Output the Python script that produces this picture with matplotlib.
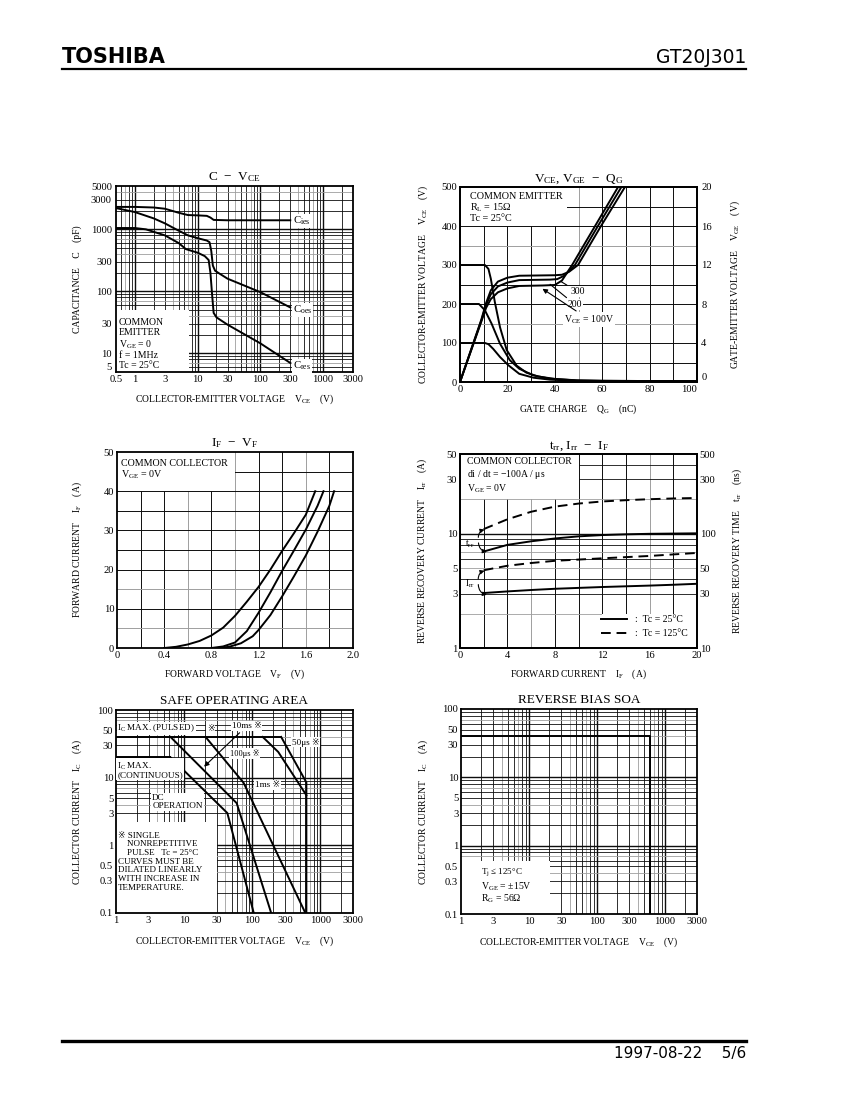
import numpy as np
import matplotlib
matplotlib.use("Agg")
import matplotlib.pyplot as plt
from matplotlib.ticker import NullLocator
from matplotlib.patches import Rectangle
from matplotlib.lines import Line2D

plt.rcParams["font.family"] = ["Liberation Serif", "DejaVu Sans", "Noto Sans CJK JP"]
plt.rcParams["mathtext.fontset"] = "custom"
plt.rcParams["mathtext.rm"] = "Liberation Serif"
plt.rcParams["mathtext.it"] = "Liberation Serif:italic"
plt.rcParams["mathtext.bf"] = "Liberation Serif:bold"
plt.rcParams["axes.linewidth"] = 1.3

# ---------------- C - VCE ----------------
cap_xticks = [0.5, 1, 3, 10, 30, 100, 300, 1000, 3000]
cap_yticks = [5, 10, 30, 100, 300, 1000, 3000, 5000]
cies_v = [0.5, 1, 2, 3, 5, 7, 10, 14, 16, 18, 30, 100, 300]
cies_c = [2300, 2300, 2250, 2150, 1850, 1700, 1680, 1650, 1550, 1420, 1400, 1400, 1400]
coes_v = [0.5, 1, 2, 3, 5, 7, 10, 14, 15.5, 16.5, 17.5, 19, 22, 30, 100, 300]
coes_c = [2200, 1900, 1500, 1250, 950, 800, 720, 660, 620, 450, 260, 215, 195, 160, 97, 55]
cres_v = [0.5, 1, 1.5, 3, 5, 6.5, 8, 10, 13, 15, 16, 17, 18, 20, 30, 100, 300]
cres_c = [1050, 1050, 1000, 800, 600, 480, 450, 420, 370, 320, 200, 90, 45, 38, 29, 14.5, 7]

# ---------------- VCE, VGE - QG ----------------
qg_xticks = [0, 20, 40, 60, 80, 100]
qg_vce_ticks = [0, 100, 200, 300, 400, 500]
qg_vge_ticks = [0, 4, 8, 12, 16, 20]
q_vce300 = [0, 10.5, 12, 13, 14.7, 16.9, 19.7, 23.9, 28, 33, 40, 50, 60, 100]
vce300 = [300, 300, 290, 265, 205, 140, 82, 42, 24, 14, 8, 4, 3, 2]
q_vce200 = [0, 8, 10.5, 13.3, 16.9, 21, 25, 31, 38, 49, 60, 100]
vce200 = [200, 200, 184, 150, 98, 56, 34, 17, 8.5, 4, 3, 2]
q_vce100 = [0, 10.5, 12, 14, 16.9, 20.4, 25, 31, 38, 49, 100]
vce100 = [100, 100, 97, 85, 64, 43, 21, 11, 6, 3, 2]
q_vge100 = [0, 9, 11, 13, 16, 20, 25, 35, 40, 43, 47.3, 57, 66.7]
vge100 = [0, 6.2, 7.6, 8.5, 9.2, 9.6, 9.85, 9.9, 9.95, 10.4, 12, 16, 20]
q_vge200 = [0, 9, 11, 13, 16, 20, 25, 38, 41, 44, 48.5, 58.2, 68.1]
vge200 = [0, 6.3, 7.9, 9.0, 9.8, 10.2, 10.45, 10.5, 10.55, 10.9, 12, 16, 20]
q_vge300 = [0, 9, 11, 13, 16, 20, 25, 40, 43, 46, 49.8, 59.5, 69.6]
vge300 = [0, 6.4, 8.1, 9.4, 10.3, 10.7, 10.9, 10.95, 11.0, 11.3, 12, 16, 20]

# ---------------- IF - VF ----------------
vf_xticks = [0, 0.4, 0.8, 1.2, 1.6, 2.0]
vf_xlabels = ["0", "0.4", "0.8", "1.2", "1.6", "2.0"]
if_yticks = [0, 10, 20, 30, 40, 50]
vf_a = [0.4, 0.5, 0.6, 0.7, 0.8, 0.9, 1.0, 1.1, 1.2, 1.3, 1.4, 1.5, 1.6, 1.68]
if_a = [0, 0.3, 0.9, 1.8, 3.2, 5.2, 8.2, 11.8, 15.6, 20.0, 24.8, 29.3, 34.0, 40]
vf_b = [0.8, 0.9, 1.0, 1.1, 1.2, 1.3, 1.4, 1.5, 1.6, 1.7, 1.75]
if_b = [0, 0.4, 1.4, 4.3, 9.0, 14.2, 19.7, 24.9, 30.2, 36.3, 40]
vf_c = [0.85, 0.95, 1.05, 1.15, 1.2, 1.3, 1.4, 1.5, 1.6, 1.7, 1.8, 1.84]
if_c = [0, 0.3, 1.2, 3.0, 4.6, 8.4, 13.2, 18.3, 23.6, 29.7, 36.3, 40]

# ---------------- trr, Irr - IF ----------------
rr_xticks = [0, 4, 8, 12, 16, 20]
irr_yticks = [1, 3, 5, 10, 30, 50]
trr_yticks = [10, 30, 50, 100, 300, 500]
if_rr = [2, 4, 6, 8, 10, 12, 14, 16, 18, 20]
trr_25 = [70, 80, 86, 91, 95, 97.5, 99, 100, 100.5, 101]
trr_125 = [110, 134, 156, 173, 184, 192, 197, 201, 204, 206]
irr_25 = [3.03, 3.13, 3.22, 3.3, 3.36, 3.42, 3.47, 3.52, 3.58, 3.65]
irr_125 = [4.8, 5.25, 5.55, 5.8, 5.95, 6.1, 6.25, 6.4, 6.6, 6.8]

# ---------------- SOA ----------------
soa_xticks = [1, 3, 10, 30, 100, 300, 1000, 3000]
soa_yticks = [0.1, 0.3, 0.5, 1, 3, 5, 10, 30, 50, 100]
soa_ylabels = ["0.1", "0.3", "0.5", "1", "3", "5", "10", "30", "50", "100"]
pulsed_v, pulsed_i = [1, 265], [40, 40]
cont_v, cont_i = [1, 6.3], [20, 20]
dc_v, dc_i = [6.3, 43, 105], [20, 3.0, 0.1]
ms10_v, ms10_i = [6.3, 59, 189], [40, 4.2, 0.1]
ms1_v, ms1_i = [20.6, 74.5, 600], [40, 8.4, 0.1]
us100_v, us100_i = [142, 240, 621], [40, 24, 5.5]
us50_v, us50_i = [265, 621, 621], [40, 8.5, 0.1]
rb_v, rb_i = [1, 614, 614], [40, 40, 0.1]

W, H = 850, 1100
fig = plt.figure(figsize=(8.5, 11), dpi=100)
DARK, GREY = "0.05", "0.62"
TICK_FS, LAB_FS, TITLE_FS, NOTE_FS = 7.6, 6.9, 9.5, 7.0


def page_axes(x0, y0, x1, y1):
    return fig.add_axes([x0 / W, 1 - y1 / H, (x1 - x0) / W, (y1 - y0) / H])


def log_values(lo, hi):
    out = []
    for e in range(int(np.floor(np.log10(lo))) - 1, int(np.ceil(np.log10(hi))) + 1):
        for k in range(1, 10):
            v = k * 10.0 ** e
            if lo * 1.001 < v < hi * 0.999:
                out.append((v, k))
    return out


def log_vgrid(ax, lo, hi, grey=(4, 7)):
    for v, k in log_values(lo, hi):
        ax.axvline(v, color=GREY if k in grey else DARK, lw=1.0 if k == 1 else 0.6, zorder=0.5)


def log_hgrid(ax, lo, hi, grey=(4, 7)):
    for v, k in log_values(lo, hi):
        ax.axhline(v, color=GREY if k in grey else DARK, lw=1.0 if k == 1 else 0.6, zorder=0.5)


def lin_vgrid(ax, vals, greys):
    for v in vals:
        ax.axvline(v, color=GREY if v in greys else DARK, lw=0.7, zorder=0.5)


def lin_hgrid(ax, vals, greys):
    for v in vals:
        ax.axhline(v, color=GREY if v in greys else DARK, lw=0.7, zorder=0.5)


def ticks(ax, xt, xl, yt, yl):
    ax.set_xticks(xt)
    ax.set_xticklabels(xl)
    ax.set_yticks(yt)
    ax.set_yticklabels(yl)
    ax.xaxis.set_minor_locator(NullLocator())
    ax.yaxis.set_minor_locator(NullLocator())
    ax.tick_params(length=0, labelsize=TICK_FS, pad=2)


def mask(ax, x0, y0, x1, y1):
    ax.add_patch(Rectangle((x0, y0), x1 - x0, y1 - y0, facecolor="white",
                           edgecolor="none", zorder=1))


def labels(ax, title, xlab, ylab, xly, ylx):
    ax.set_title(title, fontsize=TITLE_FS, pad=4)
    ax.set_xlabel(xlab, fontsize=LAB_FS)
    ax.set_ylabel(ylab, fontsize=LAB_FS)
    ax.xaxis.set_label_coords(0.5, xly)
    ax.yaxis.set_label_coords(ylx, 0.5)


WB = dict(facecolor="white", edgecolor="none", pad=0.6)
LW = 1.4

# ===== chart 1: C - VCE =====
ax1 = page_axes(116, 186, 353, 372)
ax1.set_xscale("log")
ax1.set_yscale("log")
ax1.set_xlim(0.5, 3000)
ax1.set_ylim(5, 5000)
log_vgrid(ax1, 0.5, 3000)
log_hgrid(ax1, 5, 5000)
mask(ax1, 0.5, 5, 7.4, 50)
ax1.plot(cies_v, cies_c, color="k", lw=LW, zorder=3)
ax1.plot(coes_v, coes_c, color="k", lw=LW, zorder=3)
ax1.plot(cres_v, cres_c, color="k", lw=LW, zorder=3)
ax1.text(330, 1380, r"C$_{\rm ies}$", fontsize=7.8, va="center", bbox=WB, zorder=4)
ax1.text(335, 50, r"C$_{\rm oes}$", fontsize=7.8, va="center", bbox=WB, zorder=4)
ax1.text(335, 6.3, r"C$_{\rm res}$", fontsize=7.8, va="center", bbox=WB, zorder=4)
ax1.text(0.56, 37, "COMMON\nEMITTER\nV$_{\\rm GE}$ = 0\nf = 1MHz\nTc = 25°C",
         fontsize=NOTE_FS, va="top", linespacing=1.12, zorder=4)
ticks(ax1, cap_xticks, [str(v) for v in cap_xticks], cap_yticks, [str(v) for v in cap_yticks])
ax1.tick_params(axis="y", pad=3)
ax1.get_yticklabels()[0].set_va("bottom")
labels(ax1, r"C  $-$  V$_{\rm CE}$", r"COLLECTOR-EMITTER VOLTAGE    V$_{\rm CE}$    (V)",
       r"CAPACITANCE    C    (pF)", -0.11, -0.143)

# ===== chart 2: VCE, VGE - QG =====
ax2 = page_axes(460, 187, 697, 382)
ax2.set_xlim(0, 100)
ax2.set_ylim(0, 500)
lin_vgrid(ax2, [10, 20, 30, 40, 50, 60, 70, 80, 90], [50])
lin_hgrid(ax2, [50, 100, 150, 200, 250, 300, 350, 400, 450], [150, 350])
mask(ax2, 0, 400, 45, 500)
ax2.plot(q_vce300, vce300, color="k", lw=LW, zorder=3)
ax2.plot(q_vce200, vce200, color="k", lw=LW, zorder=3)
ax2.plot(q_vce100, vce100, color="k", lw=LW, zorder=3)
ax2r = ax2.twinx()
ax2r.set_ylim(0, 20)
ax2r.plot(q_vge300, vge300, color="k", lw=LW, zorder=3)
ax2r.plot(q_vge200, vge200, color="k", lw=LW, zorder=3)
ax2r.plot(q_vge100, vge100, color="k", lw=LW, zorder=3)
ax2.text(4.2, 488, "COMMON EMITTER\nR$_{\\rm L}$ = 15Ω\nTc = 25°C", fontsize=7.3,
         va="top", linespacing=1.08, zorder=4)
AP = dict(arrowstyle="-", color="k", lw=0.8)
ax2.annotate("300", xy=(41.4, 262), xytext=(46.5, 232), fontsize=NOTE_FS, va="center",
             arrowprops=AP, bbox=WB, zorder=4)
ax2.annotate("200", xy=(37.1, 255), xytext=(45.6, 198), fontsize=NOTE_FS, va="center",
             arrowprops=AP, bbox=WB, zorder=4)
ax2.annotate(r"V$_{\rm CE}$ = 100V", xy=(33.8, 243), xytext=(44, 160), fontsize=NOTE_FS,
             va="center", bbox=WB, zorder=4,
             arrowprops=dict(arrowstyle="-|>", color="k", lw=0.8, mutation_scale=7))
ticks(ax2, qg_xticks, [str(v) for v in qg_xticks], qg_vce_ticks, [str(v) for v in qg_vce_ticks])
ax2r.set_yticks(qg_vge_ticks)
ax2r.set_yticklabels([str(v) for v in qg_vge_ticks])
ax2r.tick_params(length=0, labelsize=TICK_FS, pad=3)
ax2r.get_yticklabels()[0].set_va("bottom")
ax2.get_xticklabels()[-1].set_ha("right")
labels(ax2, r"V$_{\rm CE}$, V$_{\rm GE}$  $-$  Q$_{\rm G}$", r"GATE CHARGE    Q$_{\rm G}$    (nC)",
       r"COLLECTOR-EMITTER VOLTAGE    V$_{\rm CE}$    (V)", -0.105, -0.127)
ax2r.set_ylabel(r"GATE-EMITTER VOLTAGE    V$_{\rm GE}$    (V)", fontsize=LAB_FS)
ax2r.yaxis.set_label_coords(1.135, 0.5)

# ===== chart 3: IF - VF =====
ax3 = page_axes(117, 452, 353, 648)
ax3.set_xlim(0, 2.0)
ax3.set_ylim(0, 50)
lin_vgrid(ax3, [0.2, 0.4, 0.6, 0.8, 1.0, 1.2, 1.4, 1.6, 1.8], [0.6, 1.0, 1.6])
lin_hgrid(ax3, [5, 10, 15, 20, 25, 30, 35, 40, 45], [5, 15])
mask(ax3, 0, 40, 1.0, 50)
ax3.plot(vf_a, if_a, color="k", lw=LW, zorder=3)
ax3.plot(vf_b, if_b, color="k", lw=LW, zorder=3)
ax3.plot(vf_c, if_c, color="k", lw=LW, zorder=3)
ax3.text(0.03, 48.3, "COMMON COLLECTOR\nV$_{\\rm GE}$ = 0V", fontsize=7.2, va="top",
         linespacing=1.12, zorder=4)
ticks(ax3, vf_xticks, vf_xlabels, if_yticks, [str(v) for v in if_yticks])
labels(ax3, r"I$_{\rm F}$  $-$  V$_{\rm F}$", r"FORWARD VOLTAGE    V$_{\rm F}$    (V)",
       r"FORWARD CURRENT    I$_{\rm F}$    (A)", -0.1, -0.14)

# ===== chart 4: trr, Irr - IF =====
ax4 = page_axes(460, 454, 697, 648)
ax4.set_yscale("log")
ax4.set_xlim(0, 20)
ax4.set_ylim(1, 50)
lin_vgrid(ax4, [2, 4, 6, 8, 10, 12, 14, 16, 18], [6, 16])
log_hgrid(ax4, 1, 50, grey=(2, 5, 7))
mask(ax4, 0, 20, 10, 50)
mask(ax4, 12, 1, 20, 2)
ax4.plot(if_rr, irr_25, color="k", lw=LW, zorder=3, label=":  Tc = 25°C")
ax4.plot(if_rr, irr_125, color="k", lw=LW, ls=(0, (5, 3)), zorder=3, label=":  Tc = 125°C")
ax4r = ax4.twinx()
ax4r.set_yscale("log")
ax4r.set_ylim(10, 500)
ax4r.plot(if_rr, trr_25, color="k", lw=LW, zorder=3)
ax4r.plot(if_rr, trr_125, color="k", lw=LW, ls=(0, (5, 3)), zorder=3)
ax4.text(0.55, 47, "COMMON COLLECTOR\ndi / dt = $-$100A / μs\nV$_{\\rm GE}$ = 0V",
         fontsize=NOTE_FS, va="top", linespacing=1.2, zorder=4)
ax4.text(0.45, 8.1, r"t$_{\rm rr}$", fontsize=NOTE_FS, va="center", zorder=4)
ax4.text(0.45, 3.65, r"I$_{\rm rr}$", fontsize=NOTE_FS, va="center", zorder=4)
CA = dict(arrowstyle="-|>", color="k", lw=0.8, mutation_scale=6)
ax4.annotate("", xy=(2.3, 11.0), xytext=(1.55, 8.8),
             arrowprops=dict(CA, connectionstyle="arc3,rad=-0.5"))
ax4.annotate("", xy=(2.5, 6.9), xytext=(1.55, 8.8),
             arrowprops=dict(CA, connectionstyle="arc3,rad=0.5"))
ax4.annotate("", xy=(2.3, 4.8), xytext=(1.55, 3.8),
             arrowprops=dict(CA, connectionstyle="arc3,rad=-0.5"))
ax4.annotate("", xy=(2.5, 2.9), xytext=(1.55, 3.8),
             arrowprops=dict(CA, connectionstyle="arc3,rad=0.5"))
leg = ax4.legend(loc="lower right", fontsize=NOTE_FS, frameon=False, handlelength=2.6,
                 borderaxespad=0.6, labelspacing=0.5)
leg.set_zorder(5)
ticks(ax4, rr_xticks, [str(v) for v in rr_xticks], irr_yticks, [str(v) for v in irr_yticks])
ax4r.set_yticks(trr_yticks)
ax4r.set_yticklabels([str(v) for v in trr_yticks])
ax4r.yaxis.set_minor_locator(NullLocator())
ax4r.tick_params(length=0, labelsize=TICK_FS, pad=2)
labels(ax4, r"t$_{\rm rr}$, I$_{\rm rr}$  $-$  I$_{\rm F}$", r"FORWARD CURRENT    I$_{\rm F}$    (A)",
       r"REVERSE RECOVERY CURRENT    I$_{\rm rr}$    (A)", -0.1, -0.131)
ax4r.set_ylabel(r"REVERSE RECOVERY TIME    t$_{\rm rr}$    (ns)", fontsize=LAB_FS)
ax4r.yaxis.set_label_coords(1.143, 0.5)

# ===== chart 5: SOA =====
ax5 = page_axes(116, 710, 353, 913)
ax5.set_xscale("log")
ax5.set_yscale("log")
ax5.set_xlim(1, 3000)
ax5.set_ylim(0.1, 100)
log_vgrid(ax5, 1, 3000)
log_hgrid(ax5, 0.1, 100)
mask(ax5, 1, 0.1, 30, 2.2)
for xs, ys in [(pulsed_v, pulsed_i), (cont_v, cont_i), (dc_v, dc_i), (ms10_v, ms10_i),
               (ms1_v, ms1_i), (us100_v, us100_i), (us50_v, us50_i)]:
    ax5.plot(xs, ys, color="k", lw=LW, zorder=3)
ax5.text(1.05, 53, r"I$_{\rm C}$ MAX. (PULSED)", fontsize=6.6, va="center", bbox=WB, zorder=4)
ax5.text(21.5, 53, "※", fontsize=6.6, va="center", bbox=WB, zorder=4)
ax5.annotate("10ms ※", xy=(18.3, 13.6), xytext=(50, 58), fontsize=6.6, va="center",
             bbox=WB, zorder=4, arrowprops=dict(arrowstyle="-|>", color="k", lw=0.8,
                                                mutation_scale=7, shrinkA=2))
ax5.text(380, 33.6, "50μs ※", fontsize=6.6, va="center", bbox=WB, zorder=4)
ax5.text(47, 23, "100μs ※", fontsize=6.0, va="center", bbox=WB, zorder=4)
ax5.text(1.04, 13, "I$_{\\rm C}$ MAX.\n(CONTINUOUS)", fontsize=6.6, va="center",
         linespacing=1.0, bbox=WB, zorder=4)
ax5.text(108, 7.8, "1ms ※", fontsize=6.6, va="center", bbox=WB, zorder=4)
ax5.text(3.4, 4.4, "DC\nOPERATION", fontsize=6.6, va="center", linespacing=1.0,
         bbox=WB, zorder=4)
ax5.text(1.07, 1.6, "※ SINGLE\n    NONREPETITIVE\n    PULSE   Tc = 25°C\nCURVES MUST BE\n"
         "DILATED LINEARLY\nWITH INCREASE IN\nTEMPERATURE.", fontsize=6.5, va="top",
         linespacing=1.12, zorder=4)
ticks(ax5, soa_xticks, [str(v) for v in soa_xticks], soa_yticks, soa_ylabels)
labels(ax5, "SAFE OPERATING AREA", r"COLLECTOR-EMITTER VOLTAGE    V$_{\rm CE}$    (V)",
       r"COLLECTOR CURRENT    I$_{\rm C}$    (A)", -0.105, -0.135)

# ===== chart 6: reverse bias SOA =====
ax6 = page_axes(461, 709, 697, 914)
ax6.set_xscale("log")
ax6.set_yscale("log")
ax6.set_xlim(1, 3000)
ax6.set_ylim(0.1, 100)
log_vgrid(ax6, 1, 3000)
log_hgrid(ax6, 0.1, 100)
mask(ax6, 1, 0.1, 20.4, 0.59)
ax6.plot(rb_v, rb_i, color="k", lw=LW, zorder=3)
ax6.text(2.0, 0.41, "T$_{\\rm j}$ ≤ 125°C", fontsize=6.5, va="center", zorder=4)
ax6.text(2.0, 0.25, "V$_{\\rm GE}$ = ±15V", fontsize=7.0, va="center", zorder=4)
ax6.text(2.0, 0.165, "R$_{\\rm G}$ = 56Ω", fontsize=7.0, va="center", zorder=4)
ticks(ax6, soa_xticks, [str(v) for v in soa_xticks], soa_yticks, soa_ylabels)
labels(ax6, "REVERSE BIAS SOA", r"COLLECTOR-EMITTER VOLTAGE    V$_{\rm CE}$    (V)",
       r"COLLECTOR CURRENT    I$_{\rm C}$    (A)", -0.105, -0.131)

# ===== page header / footer =====
fig.text(62 / W, 1 - 63 / H, "TOSHIBA", fontsize=15, fontweight="heavy",
         family=["DejaVu Sans"], va="baseline", ha="left")
fig.text(746 / W, 1 - 63 / H, "GT20J301", fontsize=13.5,
         family=["DejaVu Sans"], va="baseline", ha="right")
fig.add_artist(Line2D([62 / W, 746 / W], [1 - 69 / H] * 2, color="k", lw=1.6))
fig.add_artist(Line2D([62 / W, 746 / W], [1 - 1041 / H] * 2, color="k", lw=2.4))
fig.text(746 / W, 1 - 1058 / H, "1997-08-22    5/6", fontsize=11,
         family=["DejaVu Sans"], va="baseline", ha="right")

fig.savefig("out.png", dpi=100)
